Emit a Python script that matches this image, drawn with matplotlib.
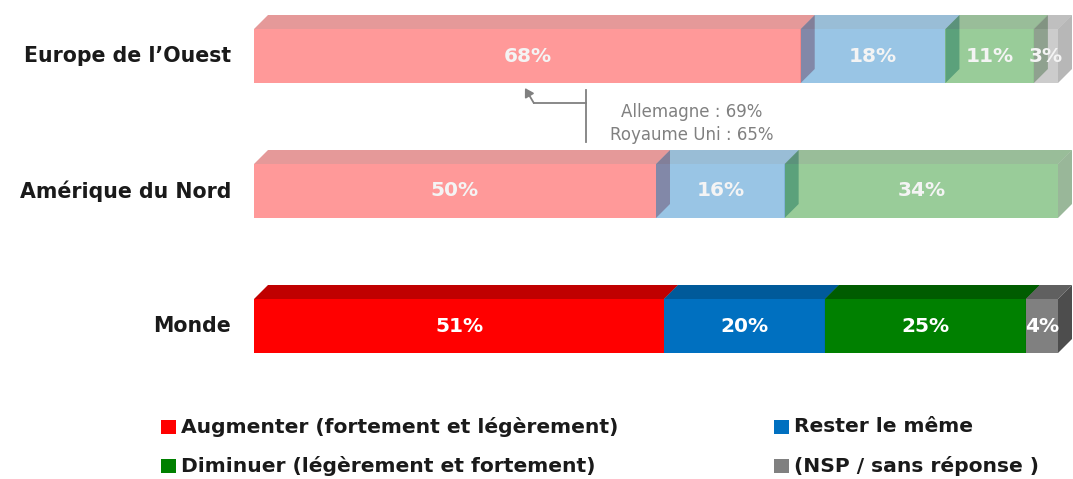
import matplotlib
matplotlib.use("Agg")
import matplotlib.pyplot as plt
from matplotlib.patches import Rectangle, Polygon
import matplotlib.transforms as mtrans

plt.rcParams['font.family'] = ['DejaVu Sans']

# ---------------- data ----------------
categories = ["Europe de l\u2019Ouest", "Am\u00e9rique du Nord", "Monde"]
series = ["Augmenter (fortement et l\u00e9g\u00e8rement)", "Rester le m\u00eame",
          "Diminuer (l\u00e9g\u00e8rement et fortement)", "(NSP / sans r\u00e9ponse )"]
europe = [68, 18, 11, 3]
amerique = [50, 16, 34, 0]
monde = [51, 20, 25, 4]
values = [europe, amerique, monde]
annotation_lines = ["Allemagne : 69%", "Royaume Uni : 65%"]

# ---------------- style ----------------
front_colors = ["#FF0000", "#0070C0", "#008000", "#808080"]
top_colors = ["#C00000", "#005A9A", "#005C00", "#606060"]
side_colors = ["#A00000", "#004C86", "#004C00", "#4D4D4D"]
bar_alpha = [0.4, 0.4, 1.0]

W, H = 1073, 479
fig = plt.figure(figsize=(W / 100, H / 100), dpi=100)
ax = fig.add_axes([254 / W, 0, 804 / W, 1])
ax.set_xlim(0, 100)
ax.set_ylim((H - 56) / 135, -56 / 135)
ax.axis("off")

bh = 0.40            # bar height (front face)
dx = 14 / 804 * 100  # depth offset in x
dy = 14 / 135        # depth offset in y

for i, vals in enumerate(values):
    yc = i
    y0, y1 = yc - bh / 2, yc + bh / 2
    a = bar_alpha[i]
    left = 0.0
    for j, v in enumerate(vals):
        if v <= 0:
            continue
        r = left + v
        top = Polygon([(left, y0), (left + dx, y0 - dy), (r + dx, y0 - dy), (r, y0)],
                      closed=True, facecolor=top_colors[j], alpha=a, lw=0, clip_on=False)
        front = Rectangle((left, y0), v, bh, facecolor=front_colors[j], alpha=a, lw=0,
                          clip_on=False)
        side = Polygon([(r, y0), (r + dx, y0 - dy), (r + dx, y1 - dy), (r, y1)],
                       closed=True, facecolor=side_colors[j], alpha=a, lw=0, clip_on=False)
        ax.add_patch(top)
        ax.add_patch(front)
        ax.add_patch(side)
        tc = "white" if a == 1.0 else "#F4F4F4"
        ax.text(left + v / 2, yc, f"{v}%", ha="center", va="center", color=tc,
                fontsize=14.5, fontweight="bold", clip_on=False, zorder=5)
        left = r

# category labels
lab_tr = mtrans.offset_copy(ax.get_yaxis_transform(), fig=fig, x=-23, y=0, units="dots")
for i, c in enumerate(categories):
    ax.text(0, i, c, transform=lab_tr, ha="right", va="center", fontsize=14.8,
            fontweight="bold", color="#1A1A1A")

# annotation (elbow connector to centre of Europe's first segment)
gray = "#808080"
tip_x = europe[0] / 2
vx = 41.3
y_line_top, y_line_bot = (90 - 56) / 135, (142 - 56) / 135
y_h = (103 - 56) / 135
ax.plot([vx, vx], [y_line_top, y_line_bot], color=gray, lw=1.3, clip_on=False)
ax.plot([vx, tip_x + 0.8], [y_h, y_h], color=gray, lw=1.3, clip_on=False)
ax.annotate("", xy=(tip_x - 0.3, (88 - 56) / 135), xytext=(tip_x + 0.8, y_h),
            arrowprops=dict(arrowstyle="-|>,head_length=0.5,head_width=0.3",
                            color=gray, lw=1.3, shrinkA=0, shrinkB=0),
            annotation_clip=False)
tx = 54.4
for k, line in enumerate(annotation_lines):
    ax.text(tx, (112 + 23 * k - 56) / 135, line, ha="center", va="center",
            fontsize=12, color=gray)

# legend (manual layout)
def fx(px):
    return px / W

def fy(py):
    return 1 - py / H

legend_pos = [(161, 427), (774, 427), (161, 466), (774, 466)]
for (lx, ly), j in zip(legend_pos, range(len(series))):
    fig.patches.append(Rectangle((fx(lx), fy(ly + 7)), 15 / W, 14 / H,
                                 transform=fig.transFigure, facecolor=front_colors[j],
                                 lw=0))
    fig.text(fx(lx + 20), fy(ly), series[j], ha="left", va="center", fontsize=14.6,
             fontweight="bold", color="#1A1A1A")

fig.savefig("out.png", dpi=100)
